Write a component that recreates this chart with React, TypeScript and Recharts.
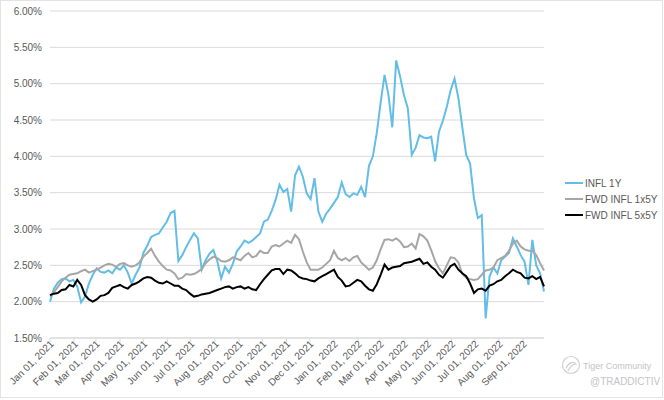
import React from "react";
import { LineChart, Line, XAxis, YAxis, CartesianGrid } from "recharts";

const BLUE = "#63bde6";
const GREY = "#a6a6a6";
const BLACK = "#000000";
const FONT = "'Liberation Sans', Arial, sans-serif";

// one reading every 5 calendar days, starting Jan 01, 2021
const STEP_DAYS = 5;

const INFL_1Y = [
  2.0, 2.18, 2.26, 2.31, 2.32, 2.28, 2.3, 2.21, 1.99, 2.07,
  2.25, 2.37, 2.46, 2.41, 2.4, 2.43, 2.39, 2.47, 2.44, 2.5,
  2.4, 2.25, 2.37, 2.47, 2.67, 2.77, 2.89, 2.92, 2.94, 3.02,
  3.1, 3.22, 3.25, 2.56, 2.64, 2.75, 2.85, 2.94, 2.87, 2.44,
  2.57, 2.66, 2.71, 2.56, 2.32, 2.48, 2.4, 2.52, 2.69, 2.76,
  2.84, 2.81, 2.84, 2.89, 2.94, 3.1, 3.13, 3.25, 3.4, 3.61,
  3.51, 3.55, 3.24, 3.74, 3.86, 3.72, 3.49, 3.41, 3.7, 3.24,
  3.1, 3.21, 3.28, 3.36, 3.44, 3.64, 3.48, 3.44, 3.49, 3.47,
  3.58, 3.44, 3.87, 4.0, 4.32, 4.74, 5.12, 4.85, 4.4, 5.32,
  5.1, 4.84, 4.66, 4.02, 4.12, 4.29, 4.26, 4.25, 4.27, 3.93,
  4.34, 4.49, 4.68, 4.91, 5.07, 4.8, 4.4, 4.02, 3.9, 3.42,
  3.15, 3.19, 1.77, 2.35, 2.47, 2.39, 2.57, 2.62, 2.67, 2.87,
  2.76, 2.64, 2.55, 2.23, 2.85, 2.5, 2.39, 2.14,
];

const FWD_INFL_1X5Y = [
  2.07, 2.13, 2.2, 2.28, 2.33, 2.37, 2.38, 2.39, 2.42, 2.44,
  2.4, 2.42, 2.44, 2.47, 2.5, 2.52, 2.51, 2.48, 2.52, 2.53,
  2.5, 2.48, 2.5, 2.54, 2.62, 2.67, 2.73, 2.63, 2.55, 2.49,
  2.44, 2.43, 2.39, 2.31, 2.33, 2.38, 2.37, 2.38, 2.41, 2.45,
  2.53, 2.58, 2.62, 2.6, 2.56, 2.55, 2.57, 2.61, 2.59, 2.57,
  2.63, 2.67, 2.61, 2.63, 2.7, 2.67, 2.67, 2.76, 2.78, 2.76,
  2.8, 2.84, 2.81, 2.92, 2.86, 2.69, 2.54, 2.44, 2.44, 2.44,
  2.47, 2.52, 2.57, 2.7, 2.6, 2.57, 2.6, 2.56, 2.61, 2.63,
  2.54, 2.49, 2.44, 2.47, 2.57, 2.72, 2.85, 2.86, 2.84, 2.87,
  2.83, 2.75, 2.76, 2.8, 2.73, 2.93, 2.9, 2.84, 2.71, 2.56,
  2.46, 2.39, 2.5, 2.61, 2.6, 2.54, 2.38, 2.33, 2.31, 2.3,
  2.31, 2.37, 2.43, 2.44, 2.47, 2.57, 2.6, 2.63, 2.7, 2.8,
  2.84, 2.76, 2.72, 2.7, 2.7, 2.64, 2.53, 2.43,
];

const FWD_INFL_5X5Y = [
  2.09, 2.11, 2.12, 2.16, 2.17, 2.23, 2.21, 2.3, 2.23, 2.09,
  2.03, 2.0, 2.03, 2.08, 2.09, 2.12, 2.19, 2.21, 2.23, 2.2,
  2.18, 2.23, 2.25, 2.28, 2.32, 2.34, 2.33, 2.29, 2.26, 2.25,
  2.28, 2.25, 2.22, 2.22, 2.18, 2.16, 2.11, 2.07, 2.08, 2.1,
  2.11, 2.12, 2.14, 2.16, 2.18, 2.2, 2.21, 2.18, 2.2, 2.21,
  2.18, 2.2, 2.17, 2.16, 2.24, 2.31, 2.37, 2.43, 2.45, 2.45,
  2.38, 2.44, 2.43, 2.39, 2.34, 2.32, 2.31, 2.29, 2.28, 2.32,
  2.35, 2.38, 2.41, 2.44, 2.34, 2.29, 2.21, 2.22, 2.26, 2.3,
  2.28, 2.22, 2.17, 2.15, 2.24, 2.37, 2.51, 2.44, 2.47, 2.48,
  2.49, 2.53, 2.54, 2.55, 2.57, 2.59, 2.52, 2.54, 2.48, 2.44,
  2.37, 2.33, 2.41, 2.49, 2.52, 2.44, 2.39, 2.35, 2.25, 2.12,
  2.17, 2.18, 2.15, 2.22, 2.24, 2.28, 2.3, 2.35, 2.39, 2.44,
  2.41, 2.39, 2.33, 2.32, 2.35, 2.31, 2.34, 2.21,
];

const TICK_DATES = [
  "2021-01-01", "2021-02-01", "2021-03-01", "2021-04-01", "2021-05-01",
  "2021-06-01", "2021-07-01", "2021-08-01", "2021-09-01", "2021-10-01",
  "2021-11-01", "2021-12-01", "2022-01-01", "2022-02-01", "2022-03-01",
  "2022-04-01", "2022-05-01", "2022-06-01", "2022-07-01", "2022-08-01",
  "2022-09-01",
];

const Y_TICKS = [1.5, 2.0, 2.5, 3.0, 3.5, 4.0, 4.5, 5.0, 5.5, 6.0];
const MONTHS = ["Jan", "Feb", "Mar", "Apr", "May", "Jun", "Jul", "Aug", "Sep", "Oct", "Nov", "Dec"];

const DAY_MS = 86400000;
const START = Date.UTC(2021, 0, 1);
const LAST_DAY = (INFL_1Y.length - 1) * STEP_DAYS;

const tickDays = TICK_DATES.map((d) => Math.round((Date.parse(d) - START) / DAY_MS));

function dayLabel(day: number) {
  const d = new Date(START + day * DAY_MS);
  return `${MONTHS[d.getUTCMonth()]} 01, ${d.getUTCFullYear()}`;
}

const chartData = INFL_1Y.map((v, i) => ({
  day: i * STEP_DAYS,
  infl1y: v,
  fwd1x5: FWD_INFL_1X5Y[i],
  fwd5x5: FWD_INFL_5X5Y[i],
}));

const legendItems = [
  { label: "INFL 1Y", color: BLUE },
  { label: "FWD INFL 1x5Y", color: GREY },
  { label: "FWD INFL 5x5Y", color: BLACK },
];

function XTick({ x, y, payload }: any) {
  return (
    <g transform={`translate(${x + 2},${y - 2})`}>
      <text
        x={0}
        y={0}
        dy="0.35em"
        textAnchor="end"
        transform="rotate(-45)"
        fontSize={10}
        fontFamily={FONT}
        fill="#595959"
      >
        {dayLabel(payload.value)}
      </text>
    </g>
  );
}

function LegendBox() {
  return (
    <div
      style={{
        position: "absolute",
        left: 565,
        top: 175,
        fontFamily: FONT,
        fontSize: 10,
        color: "#595959",
      }}
    >
      {legendItems.map((it) => (
        <div key={it.label} style={{ display: "flex", alignItems: "center", height: 16 }}>
          <span style={{ width: 18, height: 2, background: it.color, marginRight: 2 }} />
          {it.label}
        </div>
      ))}
    </div>
  );
}

function Watermark() {
  return (
    <svg
      width={100}
      height={40}
      style={{ position: "absolute", left: 560, top: 352 }}
    >
      <circle cx={11} cy={13} r={8.5} fill="none" stroke="#cfcfcf" strokeWidth={1.2} />
      <path d="M6 16 C9 10, 14 9, 16 12 C13 12, 10 15, 8 19" fill="none" stroke="#cfcfcf" strokeWidth={1.2} />
      <text x={23} y={17} fontSize={9} fontFamily={FONT} fill="#c4c4c4">
        Tiger Community
      </text>
      <text x={30} y={33} fontSize={10} fontFamily={FONT} fill="#c4c4c4">
        @TRADDICTIV
      </text>
    </svg>
  );
}

export default function App() {
  return (
    <div
      style={{
        position: "absolute",
        left: 0,
        top: 0,
        width: 664,
        height: 400,
        background: "#fff",
      }}
    >
      <div
        style={{
          position: "absolute",
          left: 0,
          top: 0,
          width: 661,
          height: 396,
          border: "1px solid #e3e3e3",
        }}
      />
      <LineChart
        width={664}
        height={400}
        data={chartData}
        margin={{ top: 11, right: 120, bottom: 0, left: 0 }}
      >
        <CartesianGrid vertical={false} stroke="#d9d9d9" />
        <XAxis
          dataKey="day"
          type="number"
          domain={[0, LAST_DAY]}
          ticks={tickDays}
          interval={0}
          height={62}
          tick={<XTick />}
          tickSize={4}
          tickMargin={2}
          tickLine={{ stroke: "#d9d9d9" }}
          axisLine={{ stroke: "#d9d9d9" }}
        />
        <YAxis
          type="number"
          domain={[1.5, 6]}
          ticks={Y_TICKS}
          interval={0}
          width={50}
          axisLine={false}
          tickLine={false}
          tickFormatter={(v: number) => `${v.toFixed(2)}%`}
          tick={{ fontSize: 10, fontFamily: FONT, fill: "#595959" }}
        />
        <Line
          dataKey="infl1y"
          stroke={BLUE}
          strokeWidth={2}
          dot={false}
          isAnimationActive={false}
        />
        <Line
          dataKey="fwd1x5"
          stroke={GREY}
          strokeWidth={2}
          dot={false}
          isAnimationActive={false}
        />
        <Line
          dataKey="fwd5x5"
          stroke={BLACK}
          strokeWidth={2}
          dot={false}
          isAnimationActive={false}
        />
      </LineChart>
      <LegendBox />
      <Watermark />
    </div>
  );
}
